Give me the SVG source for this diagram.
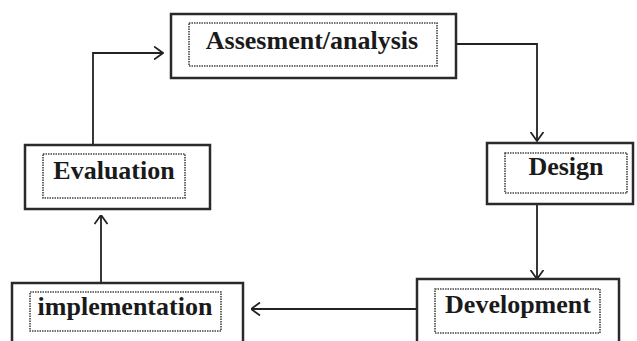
<svg xmlns="http://www.w3.org/2000/svg" width="637" height="341" viewBox="0 0 637 341">
<style>
.outer{fill:#fff;stroke:#2a2a2a;stroke-width:2.5}
.inner{fill:none;stroke:#444;stroke-width:1.6;stroke-dasharray:1.5 1}
.lbl{font-family:"Liberation Serif","Times New Roman",serif;font-weight:bold;font-size:26px;fill:#1a1a1a;text-anchor:middle}
.conn{fill:none;stroke:#222;stroke-width:1.8}
</style>
<defs>
<marker id="arr" viewBox="0 0 10 14" refX="9.5" refY="7" markerWidth="10" markerHeight="14" markerUnits="userSpaceOnUse" orient="auto">
<path d="M0.5,0.5 L9.5,7 L0.5,13.5" fill="none" stroke="#222" stroke-width="1.8"/>
</marker>
</defs>
<rect width="637" height="341" fill="#fff"/>
<g id="connectors">
<path class="conn" d="M93,145 V53 H163" marker-end="url(#arr)"/>
<path class="conn" d="M456,44 H537 V141" marker-end="url(#arr)"/>
<path class="conn" d="M537,204 V279" marker-end="url(#arr)"/>
<path class="conn" d="M417,309 H251" marker-end="url(#arr)"/>
<path class="conn" d="M101,283 V215" marker-end="url(#arr)"/>
</g>
<g id="assessment">
<rect class="outer" x="171" y="14" width="285" height="64"/>
<rect class="inner" x="189" y="23" width="248" height="43"/>
<text class="lbl" x="312" y="49">Assesment/analysis</text>
</g>
<g id="evaluation">
<rect class="outer" x="25" y="145" width="185" height="64"/>
<rect class="inner" x="43" y="154" width="142" height="44"/>
<text class="lbl" x="114" y="179">Evaluation</text>
</g>
<g id="design">
<rect class="outer" x="487" y="143" width="146" height="61"/>
<rect class="inner" x="505" y="153" width="122" height="40"/>
<text class="lbl" x="566" y="175">Design</text>
</g>
<g id="implementation">
<rect class="outer" x="12" y="283" width="231" height="64"/>
<rect class="inner" x="30" y="292" width="191" height="39"/>
<text class="lbl" x="125" y="315">implementation</text>
</g>
<g id="development">
<rect class="outer" x="417" y="279" width="202" height="68"/>
<rect class="inner" x="435" y="289" width="165" height="44"/>
<text class="lbl" x="518" y="313">Development</text>
</g>
</svg>
